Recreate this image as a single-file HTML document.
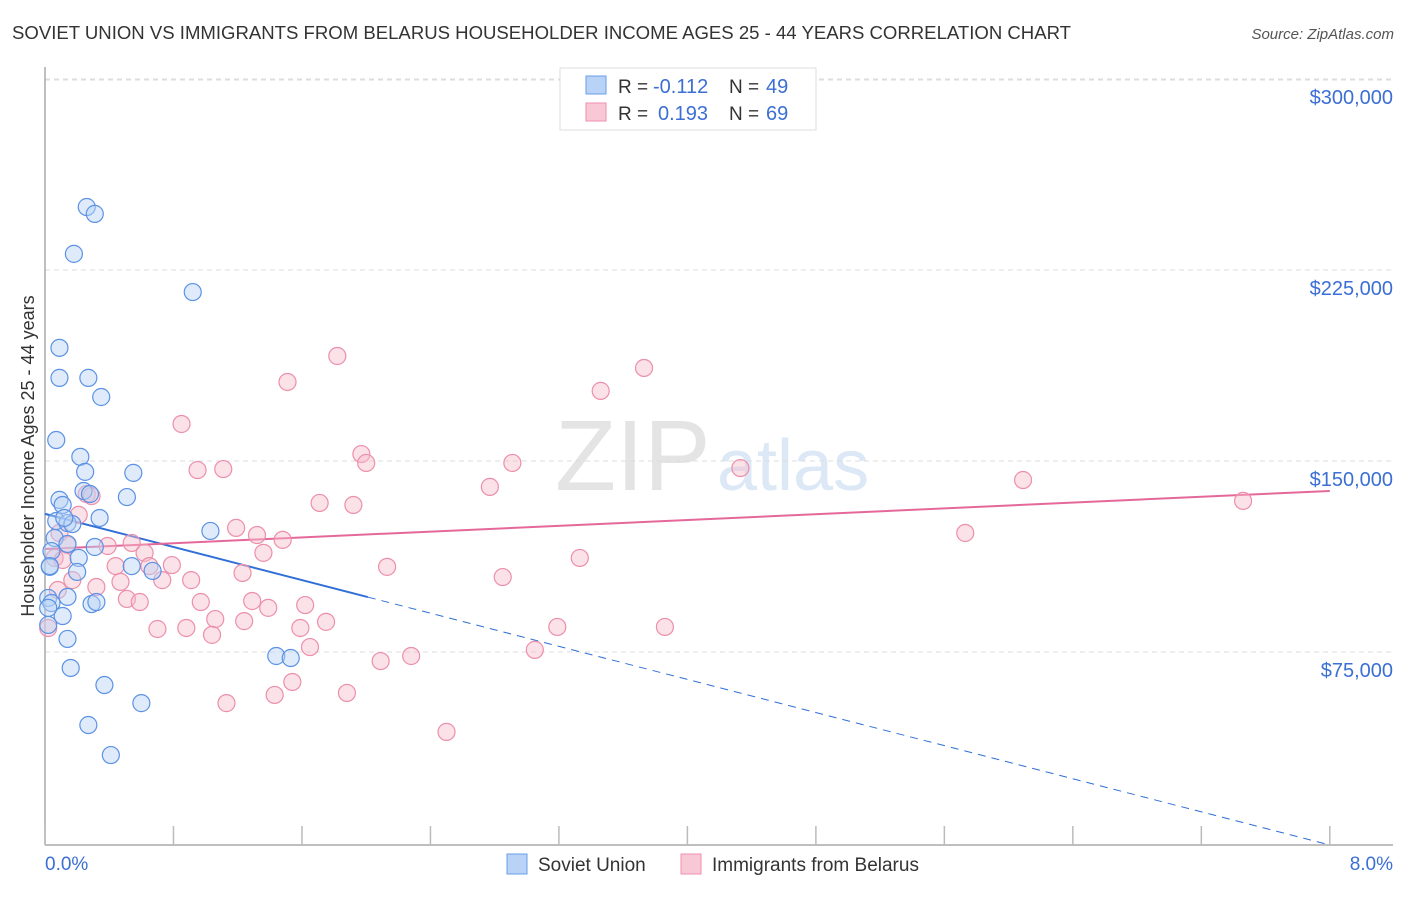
<!DOCTYPE html>
<html><head><meta charset="utf-8"><style>
body{margin:0;background:#fff;font-family:"Liberation Sans",sans-serif;}
svg text{font-family:"Liberation Sans",sans-serif;}
</style></head><body>
<svg id="chart" width="1406" height="892" xmlns="http://www.w3.org/2000/svg">
<text x="12" y="39" font-size="18" fill="#333" textLength="1059" lengthAdjust="spacingAndGlyphs">SOVIET UNION VS IMMIGRANTS FROM BELARUS HOUSEHOLDER INCOME AGES 25 - 44 YEARS CORRELATION CHART</text>
<text x="1394" y="39" font-size="15" fill="#555" text-anchor="end" font-style="italic">Source: ZipAtlas.com</text>
<text x="555" y="490" font-size="100" fill="#e4e4e4" font-family="Liberation Serif">ZIP</text>
<text x="717" y="490" font-size="72" fill="#dce8f6">atlas</text>
<g id="grid"></g>
<g id="axes"></g>
<g id="trend"></g>
<g id="points"></g>
<text transform="translate(34,456) rotate(-90)" font-size="18" fill="#333" text-anchor="middle">Householder Income Ages 25 - 44 years</text>
<text x="45" y="870" font-size="19" fill="#3b6fd4">0.0%</text>
<text x="1393" y="870" font-size="19" fill="#3b6fd4" text-anchor="end">8.0%</text>
<g>
<rect x="560" y="68" width="256" height="62" fill="#fff" stroke="#ddd"/>
<rect x="586" y="76" width="20" height="18" fill="#b8d3f5" stroke="#6a9ee8"/>
<rect x="586" y="103" width="20" height="18" fill="#f9c8d6" stroke="#ef8fad"/>
<text x="618" y="93" font-size="19" fill="#333">R =</text>
<text x="653" y="93" font-size="20" fill="#3b6fd4">-0.112</text>
<text x="729" y="93" font-size="19" fill="#333">N =</text>
<text x="766" y="93" font-size="20" fill="#3b6fd4">49</text>
<text x="618" y="120" font-size="19" fill="#333">R =</text>
<text x="658" y="120" font-size="20" fill="#3b6fd4">0.193</text>
<text x="729" y="120" font-size="19" fill="#333">N =</text>
<text x="766" y="120" font-size="20" fill="#3b6fd4">69</text>
</g>
<g>
<rect x="507" y="854" width="20" height="20" fill="#b8d3f5" stroke="#6a9ee8"/>
<text x="538" y="871" font-size="19" fill="#333">Soviet Union</text>
<rect x="681" y="854" width="20" height="20" fill="#f9c8d6" stroke="#ef8fad"/>
<text x="712" y="871" font-size="19" fill="#333">Immigrants from Belarus</text>
</g>
</svg>
<script>
const yTicks=[75000,150000,225000,300000];
const yTickLabels=["$75,000","$150,000","$225,000","$300,000"];
const xTicks=[0,0.8,1.6,2.4,3.2,4,4.8,5.6,6.4,7.2,8];
const sovietX=[0.26,0.31,0.18,0.92,0.09,0.09,0.27,0.35,0.07,0.22,0.25,0.55,0.24,0.51,0.09,0.11,0.28,0.34,0.07,0.14,0.17,0.06,0.14,0.31,1.03,0.04,0.21,0.03,0.54,0.67,0.20,0.02,0.14,0.04,0.29,0.32,0.11,0.14,1.44,1.53,0.16,0.37,0.60,0.27,0.41,0.02,0.02,0.03,0.12];
const sovietY=[256.8,254.1,238.4,223.4,201.5,189.7,189.7,182.2,165.3,158.7,152.8,152.4,145.3,142.9,141.8,139.8,144.1,134.7,133.5,132.7,132.3,126.8,124.5,123.3,129.6,121.7,119.0,115.5,115.8,113.9,113.5,103.3,103.7,101.3,100.9,101.7,96.2,87.2,80.5,79.7,75.8,69.1,62.0,53.4,41.6,92.7,99.4,115.8,134.7];
const belarusX=[1.82,3.73,1.51,3.46,0.85,1.97,2.00,0.95,1.11,2.91,4.33,6.09,2.77,0.26,0.29,1.71,1.92,7.46,0.21,1.19,5.73,0.09,1.32,1.48,0.14,0.39,0.54,0.62,1.36,3.33,0.06,0.11,0.44,0.65,0.79,2.13,1.23,0.17,0.73,0.91,2.85,0.47,0.32,0.51,0.59,0.97,1.29,1.62,1.39,1.06,1.24,1.75,0.70,0.88,1.04,1.59,3.19,3.86,1.65,3.05,2.09,2.28,1.54,1.43,1.88,1.13,2.50,0.02,0.08];
const belarusY=[198.3,193.6,188.1,184.6,171.6,159.8,156.3,153.5,153.9,156.3,154.3,149.6,146.9,144.1,143.3,140.6,139.8,141.4,135.9,130.8,128.8,128.8,128.0,126.1,124.1,123.7,124.9,121.0,121.0,119.0,119.0,118.2,115.8,115.8,116.2,115.5,113.1,110.3,110.3,110.3,111.5,109.6,107.6,102.9,101.7,101.7,102.1,100.5,99.4,95.0,94.2,93.9,91.1,91.5,88.8,91.5,91.9,91.9,84.0,82.9,78.5,80.5,70.3,65.2,66.0,62.0,50.7,91.5,106.4];
const sovietTrend=[136.3,-16.25];
const belarusTrend=[122.5,2.85];
const NS="http://www.w3.org/2000/svg";
function xs(v){return 45+v*160.6;}
function ys(k){return 861-k*191/75;}
function mk(tag,attrs,parent){const e=document.createElementNS(NS,tag);for(const k in attrs)e.setAttribute(k,attrs[k]);parent.appendChild(e);return e;}
const grid=document.getElementById('grid'),axes=document.getElementById('axes'),trend=document.getElementById('trend'),pts=document.getElementById('points');
mk('line',{x1:45,y1:80,x2:1393,y2:80,stroke:'#ddd','stroke-dasharray':'5,4'},grid);
yTicks.forEach((t,i)=>{
 const y=ys(t/1000);
 const l=mk('line',{x1:45,y1:y-18,x2:1393,y2:y-18,stroke:'#ddd','stroke-dasharray':'5,4'},grid);
 
 
 const tx=mk('text',{x:1393,y:y+7,'font-size':20,fill:'#3b6fd4','text-anchor':'end'},grid);
 tx.textContent=yTickLabels[i];
 
 
});
mk('line',{x1:45,y1:67,x2:45,y2:845,stroke:'#aaa','stroke-width':1.5},axes);
mk('line',{x1:45,y1:845,x2:1393,y2:845,stroke:'#aaa','stroke-width':1.5},axes);
xTicks.forEach(t=>{const l=mk('line',{x1:xs(t),y1:826,x2:xs(t),y2:845,stroke:'#bbb','stroke-width':1.5},axes);
 
 });
function tl(tr,x0,x1,col,dash,name){const l=mk('line',{x1:xs(x0),y1:ys(tr[0]+tr[1]*x0),x2:xs(x1),y2:ys(tr[0]+tr[1]*x1),stroke:col,'stroke-width':dash?1:2,'stroke-dasharray':dash?'8,6':'none'},trend);
 
 }
function dots(X,Y,fill,stroke,name){X.forEach((x,i)=>{const c=mk('circle',{cx:xs(x),cy:ys(Y[i]),r:8.5,fill:fill,'fill-opacity':0.45,stroke:stroke,'stroke-width':1.2},pts);
 
 });}
dots(belarusX,belarusY,'#f7bccd','#ec8fab','belarus-point');
dots(sovietX,sovietY,'#b8d3f5','#5b92e5','soviet-point');
tl(sovietTrend,0,2.01,'#2f6fd6',false,'soviet-trend-line');
tl(sovietTrend,2.01,8,'#2f6fd6',true,'soviet-trend-dashed');
tl(belarusTrend,0,8,'#e5689a',false,'belarus-trend-line');
</script>
</body></html>
